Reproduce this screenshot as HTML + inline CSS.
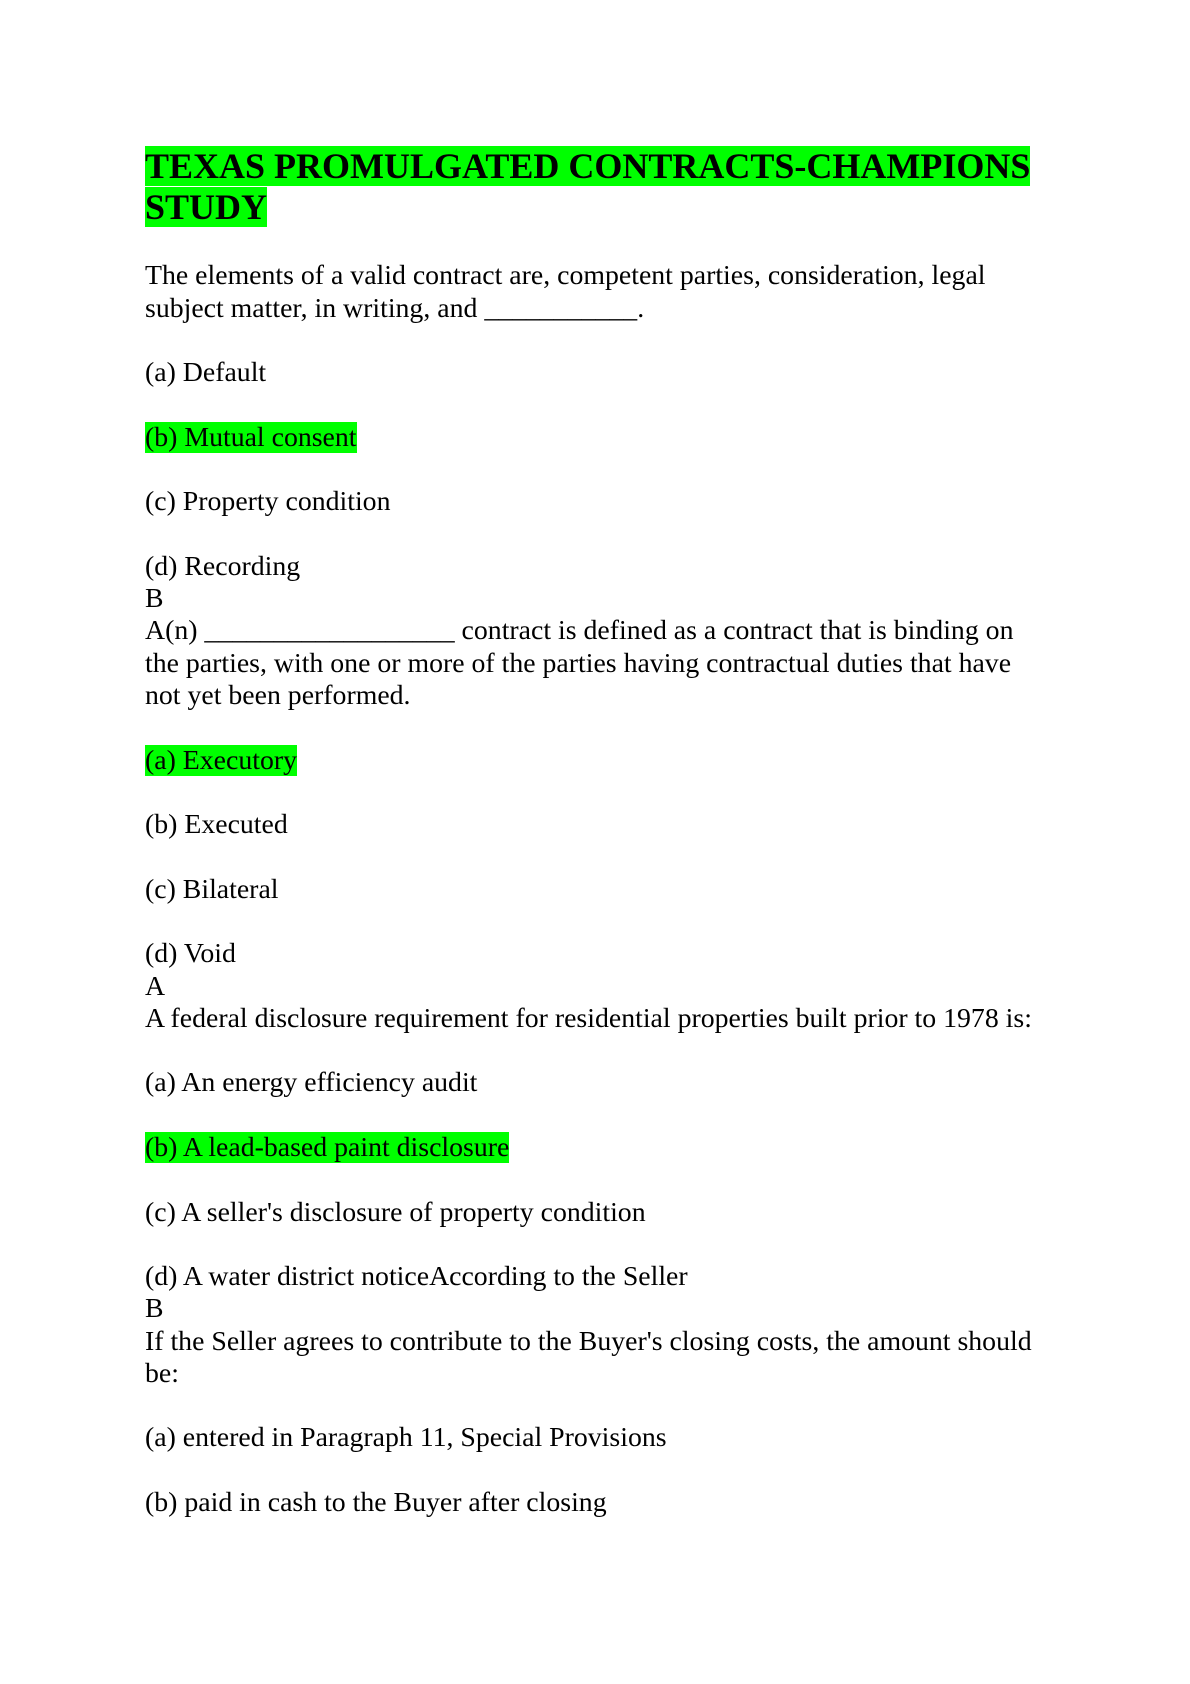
<!DOCTYPE html>
<html><head><meta charset="utf-8"><style>
body{margin:0;width:1190px;height:1684px;background:#fff;position:relative;font-family:"Liberation Serif",serif;color:#000}
.l{position:absolute;left:145px;font-size:27.8px;line-height:32px;white-space:nowrap}
.t{position:absolute;left:145px;font-size:36px;font-weight:bold;line-height:42px;white-space:nowrap}
.h{background:#00ff00}
</style></head><body>
<div class="t" style="top:145px"><span class="h">TEXAS PROMULGATED CONTRACTS-CHAMPIONS</span></div>
<div class="t" style="top:186px"><span class="h">STUDY</span></div>
<div class="l" style="top:260px">The elements of a valid contract are, competent parties, consideration, legal</div>
<div class="l" style="top:293px">subject matter, in writing, and ___________.</div>
<div class="l" style="top:357px">(a) Default</div>
<div class="l" style="top:422px"><span class="h">(b) Mutual consent</span></div>
<div class="l" style="top:486px">(c) Property condition</div>
<div class="l" style="top:551px">(d) Recording</div>
<div class="l" style="top:583px">B</div>
<div class="l" style="top:615px">A(n) __________________ contract is defined as a contract that is binding on</div>
<div class="l" style="top:648px">the parties, with one or more of the parties having contractual duties that have</div>
<div class="l" style="top:680px">not yet been performed.</div>
<div class="l" style="top:745px"><span class="h">(a) Executory</span></div>
<div class="l" style="top:809px">(b) Executed</div>
<div class="l" style="top:874px">(c) Bilateral</div>
<div class="l" style="top:938px">(d) Void</div>
<div class="l" style="top:971px">A</div>
<div class="l" style="top:1003px">A federal disclosure requirement for residential properties built prior to 1978 is:</div>
<div class="l" style="top:1067px">(a) An energy efficiency audit</div>
<div class="l" style="top:1132px"><span class="h">(b) A lead-based paint disclosure</span></div>
<div class="l" style="top:1197px">(c) A seller's disclosure of property condition</div>
<div class="l" style="top:1261px">(d) A water district noticeAccording to the Seller</div>
<div class="l" style="top:1293px">B</div>
<div class="l" style="top:1326px">If the Seller agrees to contribute to the Buyer's closing costs, the amount should</div>
<div class="l" style="top:1358px">be:</div>
<div class="l" style="top:1422px">(a) entered in Paragraph 11, Special Provisions</div>
<div class="l" style="top:1487px">(b) paid in cash to the Buyer after closing</div>
</body></html>
